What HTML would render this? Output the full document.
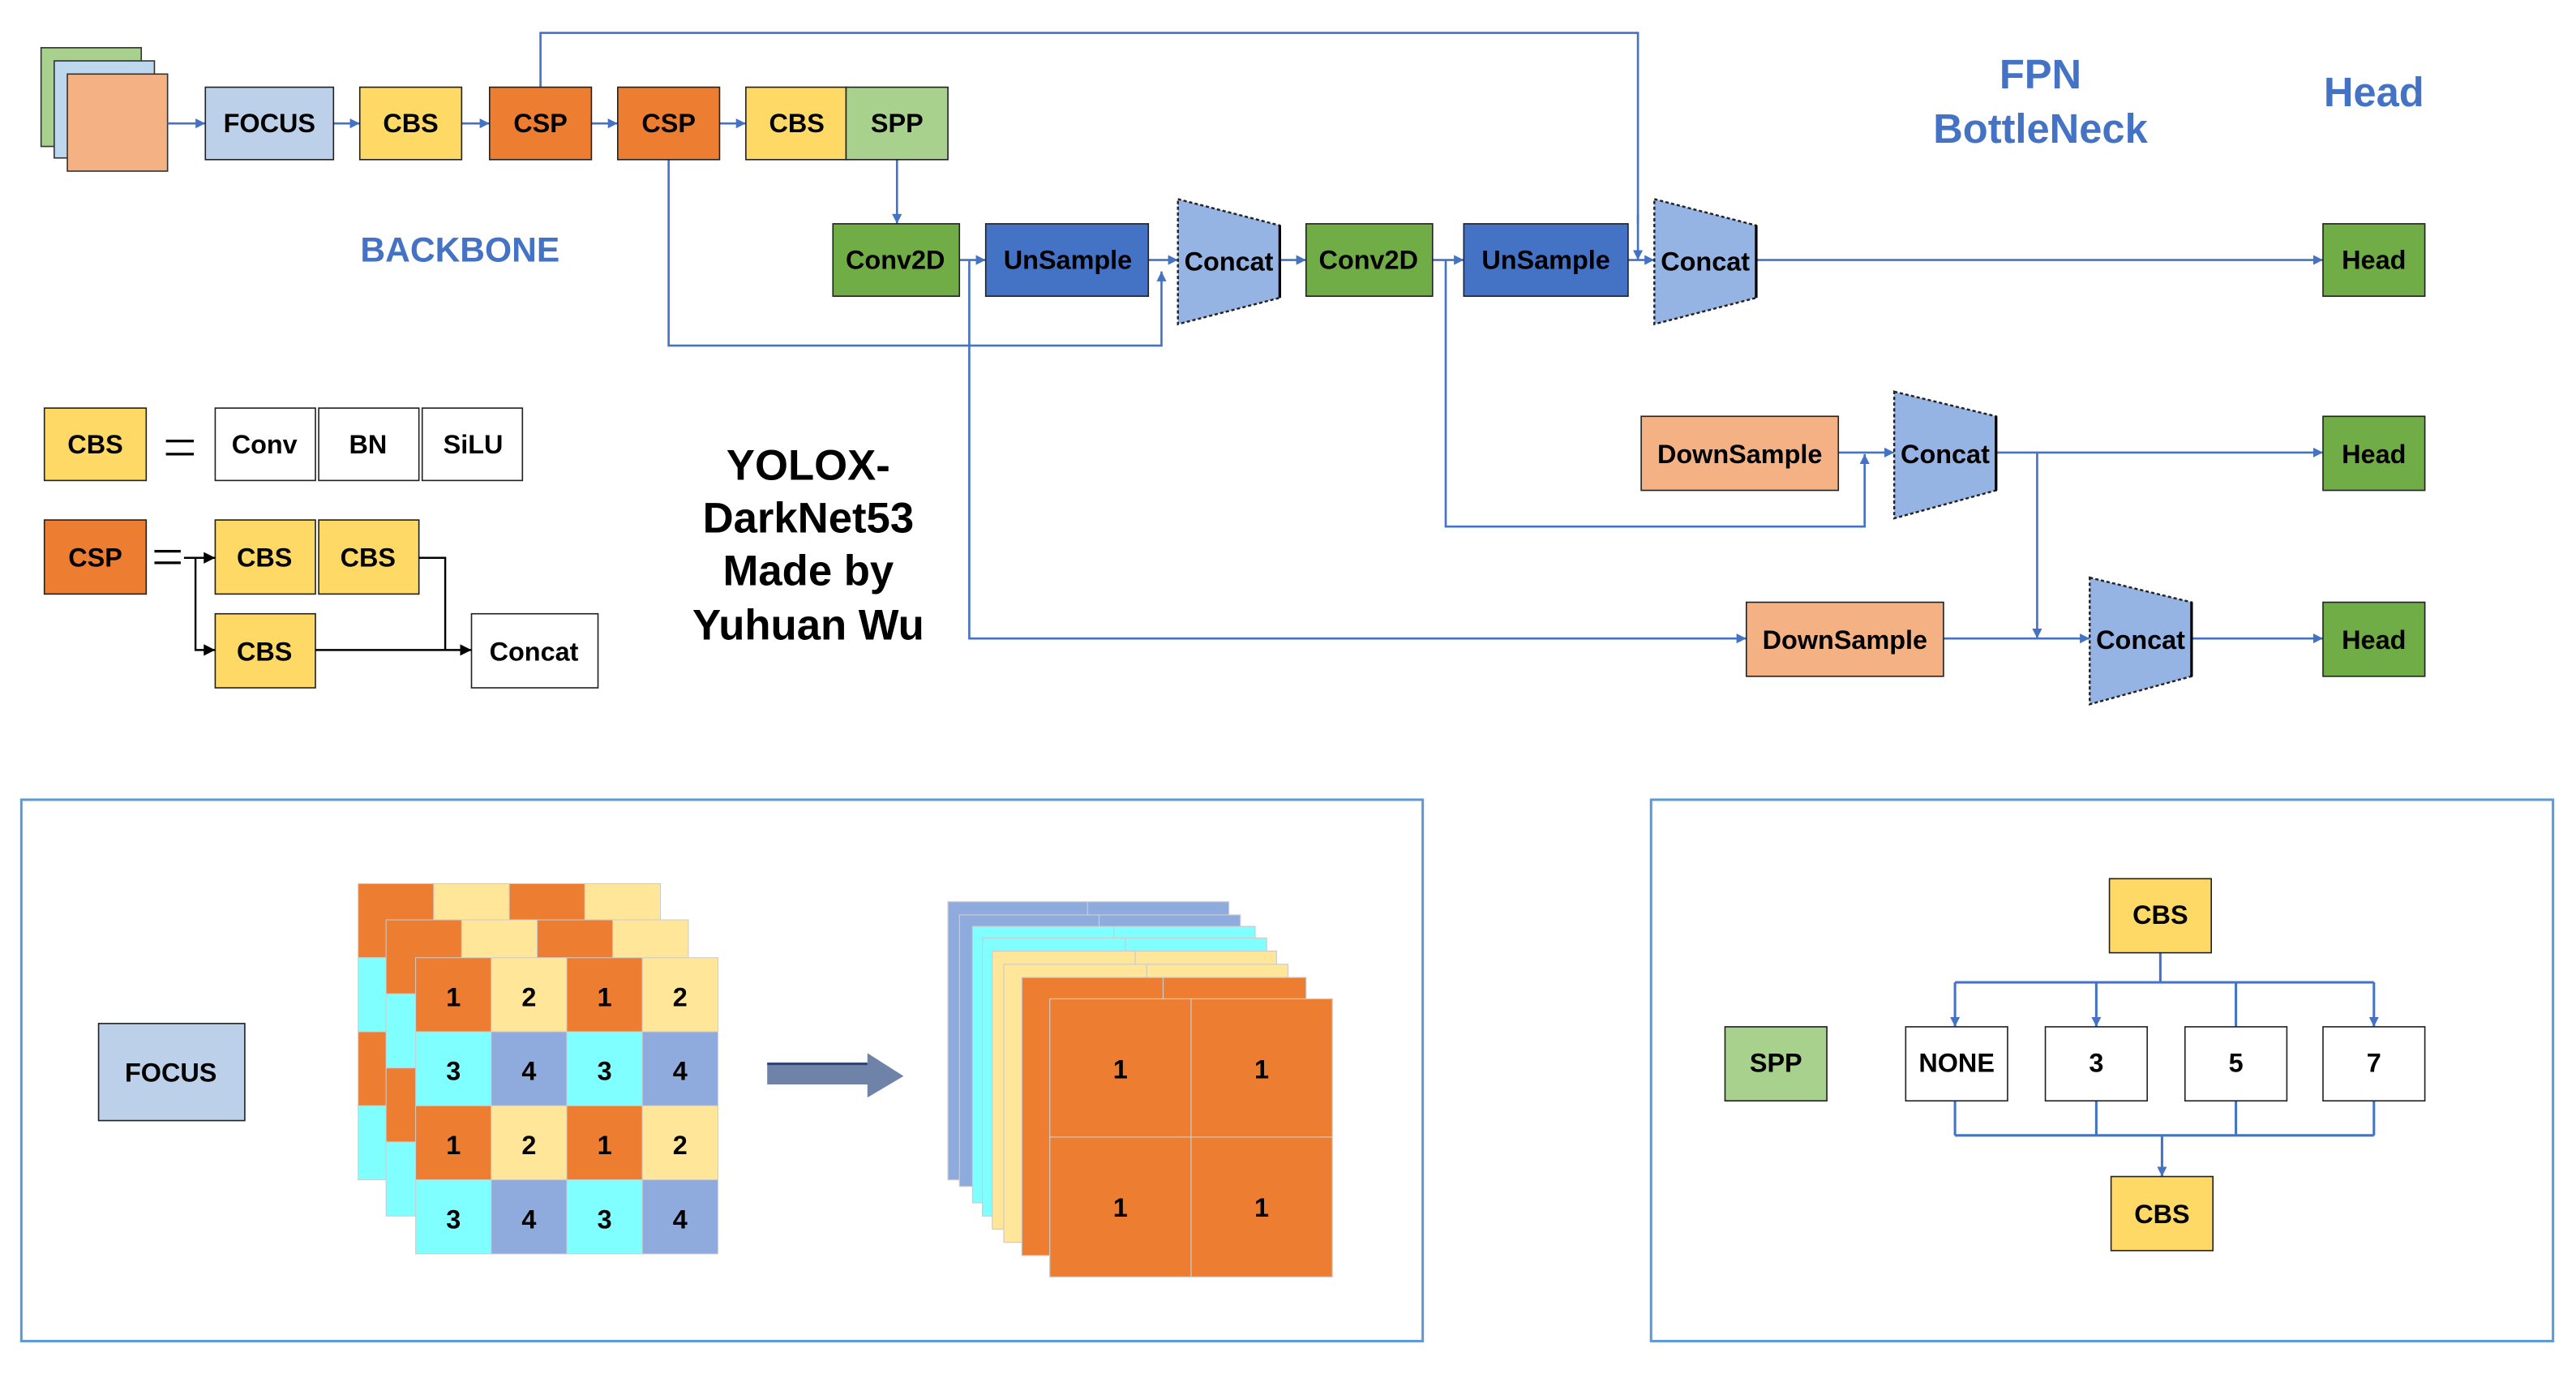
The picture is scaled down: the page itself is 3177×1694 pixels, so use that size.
<!DOCTYPE html>
<html><head><meta charset="utf-8"><style>
html,body{margin:0;padding:0;background:#fff;}
svg{display:block;}
text{font-family:"Liberation Sans",Arial,sans-serif;font-weight:bold;}
</style></head><body>
<svg width="3177" height="1694" viewBox="0 0 1568 835" preserveAspectRatio="none" xmlns="http://www.w3.org/2000/svg">
<defs>
<marker id="a" viewBox="0 0 10 10" refX="10" refY="5" markerWidth="6" markerHeight="6" orient="auto" markerUnits="userSpaceOnUse"><path d="M0,0L10,5L0,10z" fill="#4472C4"/></marker>
<marker id="k" viewBox="0 0 10 10" refX="10" refY="5" markerWidth="7" markerHeight="7" orient="auto" markerUnits="userSpaceOnUse"><path d="M0,0L10,5L0,10z" fill="#000"/></marker>
</defs>
<rect width="1568" height="835" fill="#fff"/>
<g font-size="16" text-anchor="middle" dominant-baseline="central">
<!-- input stack -->
<rect x="25" y="29" width="61" height="60" fill="#A9D18E" stroke="#333" stroke-width="0.8"/>
<rect x="33" y="37" width="61" height="59" fill="#BDD7EE" stroke="#333" stroke-width="0.8"/>
<rect x="41" y="45" width="61" height="59" fill="#F4B183" stroke="#333" stroke-width="0.8"/>
<!-- top row -->
<g stroke="#4472C4" stroke-width="1.3" fill="none">
<line x1="102" y1="75" x2="125" y2="75" marker-end="url(#a)"/>
<line x1="203" y1="75" x2="219" y2="75" marker-end="url(#a)"/>
<line x1="281" y1="75" x2="298" y2="75" marker-end="url(#a)"/>
<line x1="360" y1="75" x2="376" y2="75" marker-end="url(#a)"/>
<line x1="438" y1="75" x2="454" y2="75" marker-end="url(#a)"/>
<polyline points="329,53 329,20 997,20 997,136"/>
<line x1="997" y1="130" x2="997" y2="158" marker-end="url(#a)"/>
<line x1="546" y1="97" x2="546" y2="136" marker-end="url(#a)"/>
<polyline points="407,97 407,210 707,210 707,165" marker-end="url(#a)"/>
<line x1="584" y1="158" x2="600" y2="158" marker-end="url(#a)"/>
<line x1="699" y1="158" x2="717" y2="158" marker-end="url(#a)"/>
<line x1="779" y1="158" x2="795" y2="158" marker-end="url(#a)"/>
<line x1="872" y1="158" x2="891" y2="158" marker-end="url(#a)"/>
<line x1="991" y1="158" x2="1007" y2="158" marker-end="url(#a)"/>
<line x1="1069" y1="158" x2="1414" y2="158" marker-end="url(#a)"/>
<polyline points="590,158 590,388 1063,388" marker-end="url(#a)"/>
<polyline points="880,158 880,320 1135,320 1135,276" marker-end="url(#a)"/>
<line x1="1119" y1="275" x2="1153" y2="275" marker-end="url(#a)"/>
<line x1="1215" y1="275" x2="1414" y2="275" marker-end="url(#a)"/>
<line x1="1240" y1="275" x2="1240" y2="388" marker-end="url(#a)"/>
<line x1="1183" y1="388" x2="1272" y2="388" marker-end="url(#a)"/>
<line x1="1334" y1="388" x2="1414" y2="388" marker-end="url(#a)"/>
</g>
<g stroke="#222" stroke-width="0.8">
<rect x="125" y="53" width="78" height="44" fill="#BDD0EA"/>
<rect x="219" y="53" width="62" height="44" fill="#FFD966"/>
<rect x="298" y="53" width="62" height="44" fill="#ED7D31"/>
<rect x="376" y="53" width="62" height="44" fill="#ED7D31"/>
<rect x="454" y="53" width="61" height="44" fill="#FFD966"/>
<rect x="515" y="53" width="62" height="44" fill="#A9D18E"/>
<rect x="507" y="136" width="77" height="44" fill="#70AD47"/>
<rect x="600" y="136" width="99" height="44" fill="#4472C4"/>
<rect x="795" y="136" width="77" height="44" fill="#70AD47"/>
<rect x="891" y="136" width="100" height="44" fill="#4472C4"/>
<rect x="999" y="253" width="120" height="45" fill="#F4B183"/>
<rect x="1063" y="366" width="120" height="45" fill="#F4B183"/>
<rect x="1414" y="136" width="62" height="44" fill="#70AD47"/>
<rect x="1414" y="253" width="62" height="45" fill="#70AD47"/>
<rect x="1414" y="366" width="62" height="45" fill="#70AD47"/>
</g>
<g fill="#95B3E3" stroke="#222" stroke-width="1.2" stroke-dasharray="2,1.5">
<polygon points="717,121 779,137 779,181 717,197"/>
<polygon points="1007,121 1069,137 1069,181 1007,197"/>
<polygon points="1153,238 1215,253 1215,298 1153,315"/>
<polygon points="1272,351 1334,366 1334,411 1272,428"/>
</g>
<g stroke="#000" stroke-width="1.6"><line x1="779" y1="137" x2="779" y2="181"/><line x1="1069" y1="137" x2="1069" y2="181"/><line x1="1215" y1="253" x2="1215" y2="298"/><line x1="1334" y1="366" x2="1334" y2="411"/></g>
<text x="164" y="75">FOCUS</text>
<text x="250" y="75">CBS</text>
<text x="329" y="75">CSP</text>
<text x="407" y="75">CSP</text>
<text x="485" y="75">CBS</text>
<text x="546" y="75">SPP</text>
<text x="545" y="158">Conv2D</text>
<text x="650" y="158">UnSample</text>
<text x="748" y="159">Concat</text>
<text x="833" y="158">Conv2D</text>
<text x="941" y="158">UnSample</text>
<text x="1038" y="159">Concat</text>
<text x="1059" y="276">DownSample</text>
<text x="1184" y="276">Concat</text>
<text x="1123" y="389">DownSample</text>
<text x="1303" y="389">Concat</text>
<text x="1445" y="158">Head</text>
<text x="1445" y="276">Head</text>
<text x="1445" y="389">Head</text>
<g fill="#4472C4">
<text x="280" y="152" font-size="21">BACKBONE</text>
<text x="1242" y="45" font-size="25">FPN</text>
<text x="1242" y="78" font-size="25">BottleNeck</text>
<text x="1445" y="56" font-size="25">Head</text>
</g>
<g font-size="26">
<text x="492" y="283">YOLOX-</text>
<text x="492" y="315">DarkNet53</text>
<text x="492" y="347">Made by</text>
<text x="492" y="380">Yuhuan Wu</text>
</g>
<!-- legend -->
<g stroke="#222" stroke-width="0.8">
<rect x="27" y="248" width="62" height="44" fill="#FFD966"/>
<rect x="131" y="248" width="61" height="44" fill="#fff"/>
<rect x="194" y="248" width="61" height="44" fill="#fff"/>
<rect x="257" y="248" width="61" height="44" fill="#fff"/>
<rect x="27" y="316" width="62" height="45" fill="#ED7D31"/>
<rect x="131" y="316" width="61" height="45" fill="#FFD966"/>
<rect x="194" y="316" width="61" height="45" fill="#FFD966"/>
<rect x="131" y="373" width="61" height="45" fill="#FFD966"/>
<rect x="287" y="373" width="77" height="45" fill="#fff"/>
</g>
<g stroke="#000" stroke-width="1.6" fill="none">
<line x1="101" y1="268" x2="118" y2="268"/><line x1="101" y1="276" x2="118" y2="276"/>
<line x1="94" y1="335" x2="110" y2="335"/><line x1="94" y1="342" x2="110" y2="342"/>
<g stroke-width="1.2">
<line x1="112" y1="339" x2="131" y2="339" marker-end="url(#k)"/>
<polyline points="119,339 119,395 131,395" marker-end="url(#k)"/>
<polyline points="255,339 271,339 271,395"/>
<line x1="192" y1="395" x2="287" y2="395" marker-end="url(#k)"/>
</g></g>
<text x="58" y="270">CBS</text>
<text x="161" y="270">Conv</text>
<text x="224" y="270">BN</text>
<text x="288" y="270">SiLU</text>
<text x="58" y="339">CSP</text>
<text x="161" y="339">CBS</text>
<text x="224" y="339">CBS</text>
<text x="161" y="396">CBS</text>
<text x="325" y="396">Concat</text>
<!-- bottom panels -->
<rect x="13" y="486" width="853" height="329" fill="none" stroke="#5B9BD5" stroke-width="1.5"/>
<rect x="1005" y="486" width="549" height="329" fill="none" stroke="#5B9BD5" stroke-width="1.5"/>
<rect x="60" y="622" width="89" height="59" fill="#BDD0EA" stroke="#222" stroke-width="0.8"/>
<text x="104" y="652">FOCUS</text>
<!-- grids -->
<g stroke="#ccc" stroke-width="0.5">
<g id="g1">
<rect x="218" y="537" width="46" height="45" fill="#ED7D31"/><rect x="264" y="537" width="46" height="45" fill="#FFE699"/><rect x="310" y="537" width="46" height="45" fill="#ED7D31"/><rect x="356" y="537" width="46" height="45" fill="#FFE699"/>
<rect x="218" y="582" width="46" height="45" fill="#7FFFFF"/><rect x="264" y="582" width="46" height="45" fill="#8FAADC"/><rect x="310" y="582" width="46" height="45" fill="#7FFFFF"/><rect x="356" y="582" width="46" height="45" fill="#8FAADC"/>
<rect x="218" y="627" width="46" height="45" fill="#ED7D31"/><rect x="264" y="627" width="46" height="45" fill="#FFE699"/><rect x="310" y="627" width="46" height="45" fill="#ED7D31"/><rect x="356" y="627" width="46" height="45" fill="#FFE699"/>
<rect x="218" y="672" width="46" height="45" fill="#7FFFFF"/><rect x="264" y="672" width="46" height="45" fill="#8FAADC"/><rect x="310" y="672" width="46" height="45" fill="#7FFFFF"/><rect x="356" y="672" width="46" height="45" fill="#8FAADC"/>
</g>
<use href="#g1" x="17" y="22"/>
<use href="#g1" x="35" y="45"/>
</g>
<g font-size="16">
<text x="276" y="606">1</text><text x="322" y="606">2</text><text x="368" y="606">1</text><text x="414" y="606">2</text>
<text x="276" y="651">3</text><text x="322" y="651">4</text><text x="368" y="651">3</text><text x="414" y="651">4</text>
<text x="276" y="696">1</text><text x="322" y="696">2</text><text x="368" y="696">1</text><text x="414" y="696">2</text>
<text x="276" y="741">3</text><text x="322" y="741">4</text><text x="368" y="741">3</text><text x="414" y="741">4</text>
</g>
<!-- big arrow -->
<polygon points="467,646 528,646 528,640 550,654 528,667 528,659 467,659" fill="#6F83A8"/>
<line x1="467" y1="646.5" x2="528" y2="646.5" stroke="#2F4675" stroke-width="1.5"/>
<!-- stack -->
<g stroke="#ccc" stroke-width="0.6">
<rect x="577" y="548" width="171" height="169" fill="#8FAADC"/><line x1="662" y1="548" x2="662" y2="717"/>
<rect x="584" y="556" width="171" height="165" fill="#8FAADC"/><line x1="669" y1="556" x2="669" y2="721"/>
<rect x="592" y="563" width="172" height="168" fill="#7FFFFF"/><line x1="678" y1="563" x2="678" y2="731"/>
<rect x="598" y="570" width="173" height="169" fill="#7FFFFF"/><line x1="685" y1="570" x2="685" y2="739"/>
<rect x="604" y="578" width="173" height="169" fill="#FFE699"/><line x1="691" y1="578" x2="691" y2="747"/>
<rect x="611" y="586" width="173" height="169" fill="#FFE699"/><line x1="698" y1="586" x2="698" y2="755"/>
<rect x="622" y="594" width="173" height="169" fill="#ED7D31"/><line x1="708" y1="594" x2="708" y2="763"/>
<rect x="639" y="607" width="172" height="169" fill="#ED7D31"/><line x1="725" y1="607" x2="725" y2="776"/><line x1="639" y1="691" x2="811" y2="691"/>
</g>
<text x="682" y="650">1</text><text x="768" y="650">1</text>
<text x="682" y="734">1</text><text x="768" y="734">1</text>
<!-- SPP panel -->
<g stroke="#4472C4" stroke-width="1.5" fill="none">
<polyline points="1315,579 1315,597"/>
<line x1="1190" y1="597" x2="1445" y2="597"/>
<line x1="1190" y1="597" x2="1190" y2="624" marker-end="url(#a)"/>
<line x1="1276" y1="597" x2="1276" y2="624" marker-end="url(#a)"/>
<line x1="1361" y1="597" x2="1361" y2="624"/>
<line x1="1445" y1="597" x2="1445" y2="624" marker-end="url(#a)"/>
<line x1="1190" y1="669" x2="1190" y2="690"/>
<line x1="1276" y1="669" x2="1276" y2="690"/>
<line x1="1361" y1="669" x2="1361" y2="690"/>
<line x1="1445" y1="669" x2="1445" y2="690"/>
<line x1="1190" y1="690" x2="1445" y2="690"/>
<line x1="1316" y1="690" x2="1316" y2="715" marker-end="url(#a)"/>
</g>
<g stroke="#222" stroke-width="0.8">
<rect x="1284" y="534" width="62" height="45" fill="#FFD966"/>
<rect x="1050" y="624" width="62" height="45" fill="#A9D18E"/>
<rect x="1160" y="624" width="62" height="45" fill="#fff"/>
<rect x="1245" y="624" width="62" height="45" fill="#fff"/>
<rect x="1330" y="624" width="62" height="45" fill="#fff"/>
<rect x="1414" y="624" width="62" height="45" fill="#fff"/>
<rect x="1285" y="715" width="62" height="45" fill="#FFD966"/>
</g>
<text x="1315" y="556">CBS</text>
<text x="1081" y="646">SPP</text>
<text x="1191" y="646">NONE</text>
<text x="1276" y="646">3</text>
<text x="1361" y="646">5</text>
<text x="1445" y="646">7</text>
<text x="1316" y="738">CBS</text>
</g>
</svg>
</body></html>
